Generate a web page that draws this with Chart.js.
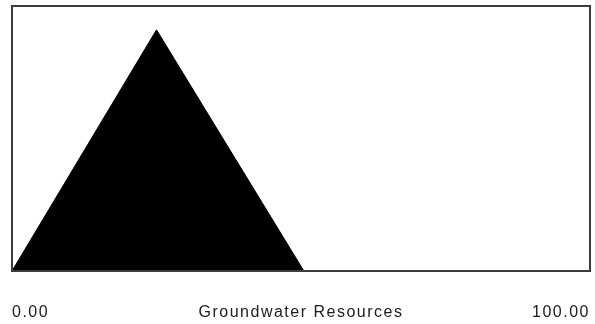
<!DOCTYPE html>
<html>
<head>
<meta charset="utf-8">
<script src="https://cdn.jsdelivr.net/npm/chart.js@4/dist/chart.umd.min.js"></script>
<style>
  html, body { margin: 0; padding: 0; background: #ffffff; }
  #wrap { width: 595px; height: 324px; }
</style>
</head>
<body>
<div id="wrap"><canvas id="chart" width="595" height="324"></canvas></div>
<script>
// Triangular distribution of the resource estimate
const xValues = [0, 25, 50.5];
const yValues = [0, 0.91, 0];

// Axis labels: minimum, variable name, maximum
const tickValues = [0, 50, 100];
const variableName = 'Groundwater Resources';

const points = xValues.map((x, i) => ({ x: x, y: yValues[i] }));

// Frame drawn around the plotting area; slightly spaced label text
const frame = {
  id: 'frame',
  beforeDraw(chart) {
    chart.ctx.letterSpacing = '1.5px';
  },
  afterDatasetsDraw(chart) {
    const { ctx, chartArea: a } = chart;
    ctx.save();
    ctx.strokeStyle = '#3c3c3c';
    ctx.lineWidth = 2;
    ctx.strokeRect(a.left, a.top, a.right - a.left, a.bottom - a.top);
    ctx.restore();
  }
};

new Chart(document.getElementById('chart'), {
  type: 'line',
  data: {
    datasets: [{
      data: points,
      fill: 'origin',
      backgroundColor: '#000000',
      borderColor: '#000000',
      borderWidth: 1,
      pointRadius: 0,
      tension: 0
    }]
  },
  options: {
    responsive: false,
    animation: false,
    events: [],
    layout: { padding: { left: 12, right: 5, top: 6, bottom: 3 } },
    plugins: { legend: { display: false }, tooltip: { enabled: false } },
    scales: {
      x: {
        type: 'linear',
        min: 0,
        max: 100,
        afterBuildTicks(scale) {
          scale.ticks = tickValues.map(v => ({ value: v }));
        },
        afterFit(scale) {
          scale.paddingLeft = 0;
          scale.paddingRight = 0;
          scale.height = 50;
        },
        ticks: {
          autoSkip: false,
          maxRotation: 0,
          align: 'inner',
          padding: 32,
          color: '#202020',
          font: { family: 'Liberation Sans, Arial, sans-serif', size: 16 },
          callback(value) {
            if (value === tickValues[1]) return variableName;
            return value.toFixed(2);
          }
        },
        grid: { display: false, drawTicks: false },
        border: { display: false }
      },
      y: {
        display: false,
        min: 0,
        max: 1
      }
    }
  },
  plugins: [frame]
});
</script>
</body>
</html>
